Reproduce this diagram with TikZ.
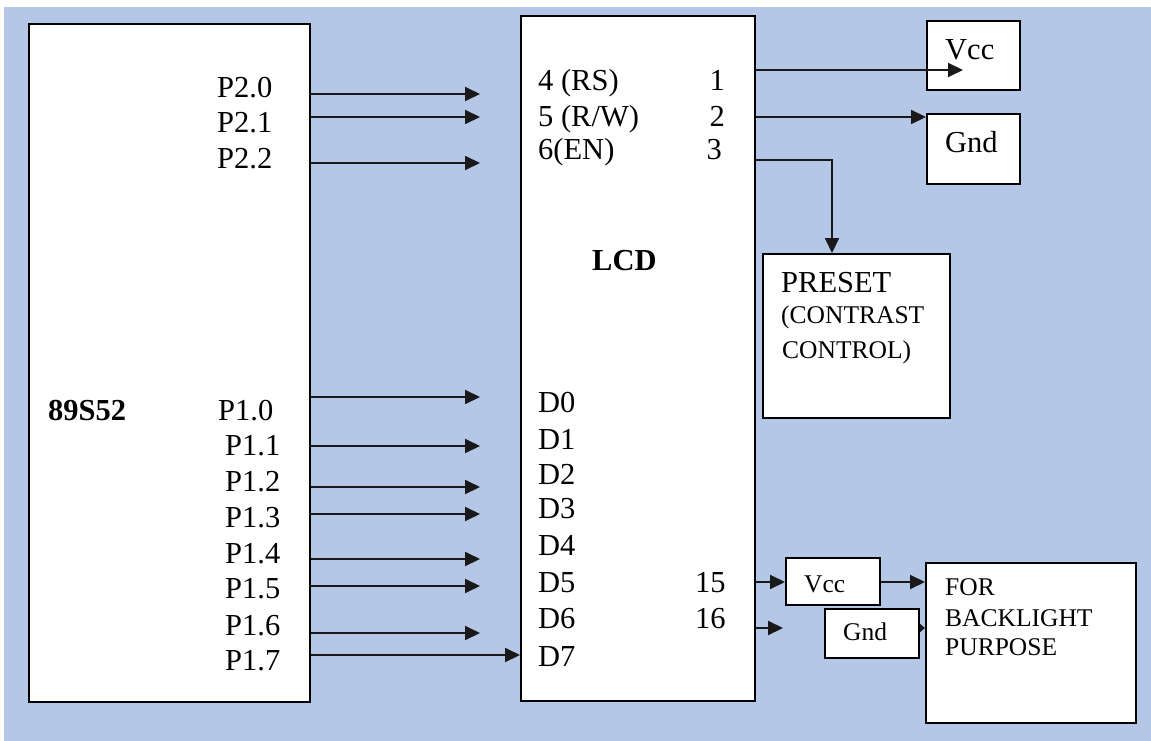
\documentclass[tikz,border=0pt]{standalone}
\usepackage{fontspec}
\setmainfont{Liberation Serif}
\usetikzlibrary{arrows.meta}
\definecolor{panel}{RGB}{180,199,231}
\newcommand\bigtxt{\fontsize{30.5}{36}\selectfont}
\newcommand\smalltxt{\fontsize{25.5}{30}\selectfont}
\begin{document}
\begin{tikzpicture}[x=1pt,y=-1pt,
  box/.style={draw=black, line width=2.2pt, fill=white, inner sep=0pt, anchor=north west},
  lbl/.style={inner sep=0pt, anchor=base west, font=\bigtxt},
  lblr/.style={inner sep=0pt, anchor=base east, font=\bigtxt},
  sml/.style={inner sep=0pt, anchor=base west, font=\smalltxt},
  wire/.style={line width=2pt, draw=black!90},
  arr/.style={wire, -{Triangle[length=15pt,width=14pt]}}]
\useasboundingbox (0,0) rectangle (1151,741);
\fill[panel] (4,7) rectangle (1151,741);

% blocks
\node[box, minimum width=281pt, minimum height=678pt] (mcu) at (28,23) {};
\node[box, minimum width=234pt, minimum height=685pt] (lcd) at (520,15) {};
\node[box, minimum width=93pt, minimum height=69pt] (vcc) at (926,20) {};
\node[box, minimum width=93pt, minimum height=70pt] (gnd) at (926,113) {};
\node[box, minimum width=187pt, minimum height=164pt] (preset) at (762,253) {};
\node[box, minimum width=94pt, minimum height=47pt] (vccs) at (785,557) {};
\node[box, minimum width=94pt, minimum height=49pt] (gnds) at (824,608) {};
\node[box, minimum width=210pt, minimum height=160pt] (back) at (925,562) {};

% microcontroller labels
\node[lbl] (p20) at (217,98) {P2.0};
\node[lbl] (p21) at (217,133) {P2.1};
\node[lbl] (p22) at (217,168) {P2.2};
\node[lbl, font=\bigtxt\bfseries] (chip) at (48,420) {89S52};
\node[lbl] (p10) at (218,420) {P1.0};
\node[lbl] (p11) at (225,455) {P1.1};
\node[lbl] (p12) at (225,491) {P1.2};
\node[lbl] (p13) at (225,527) {P1.3};
\node[lbl] (p14) at (225,563) {P1.4};
\node[lbl] (p15) at (225,598) {P1.5};
\node[lbl] (p16) at (225,635) {P1.6};
\node[lbl] (p17) at (225,670) {P1.7};

% LCD labels
\node[lbl] (rs) at (538,91) {4 (RS)};
\node[lbl] (rw) at (538,127) {5 (R/W)};
\node[lbl] (en) at (538,160) {6(EN)};
\node[lblr] (pin1) at (725,91) {1};
\node[lblr] (pin2) at (725,127) {2};
\node[lblr] (pin3) at (722,160) {3};
\node[lbl, font=\bigtxt\bfseries] (lcdname) at (592,270) {LCD};
\node[lbl] (d0) at (538,412) {D0};
\node[lbl] (d1) at (538,449) {D1};
\node[lbl] (d2) at (538,484) {D2};
\node[lbl] (d3) at (538,518) {D3};
\node[lbl] (d4) at (538,555) {D4};
\node[lbl] (d5) at (538,592) {D5};
\node[lbl] (d6) at (538,628) {D6};
\node[lbl] (d7) at (538,666) {D7};
\node[lbl] (pin15) at (695,592) {15};
\node[lbl] (pin16) at (695,628) {16};

% side blocks
\node[lbl] (vcctxt) at (945,60) {Vcc};
\node[lbl] (gndtxt) at (945,153) {Gnd};
\node[lbl] (pre1) at (781,292) {PRESET};
\node[sml] (pre2) at (781,323) {(CONTRAST};
\node[sml] (pre3) at (782,358) {CONTROL)};
\node[sml] (vccstxt) at (804,592) {Vcc};
\node[sml] (gndstxt) at (843,640) {Gnd};
\node[sml] (bk1) at (945,595) {FOR};
\node[sml] (bk2) at (945,626) {BACKLIGHT};
\node[sml] (bk3) at (945,655) {PURPOSE};

% port 2 to control pins
\coordinate (t20) at (480,94);
\coordinate (t21) at (480,117);
\coordinate (t22) at (480,163);
\draw[arr] (mcu.east |- t20) -- (t20);
\draw[arr] (mcu.east |- t21) -- (t21);
\draw[arr] (mcu.east |- t22) -- (t22);

% port 1 to data pins
\coordinate (t10) at (480,397);
\coordinate (t11) at (480,446);
\coordinate (t12) at (480,487);
\coordinate (t13) at (480,514);
\coordinate (t14) at (480,559);
\coordinate (t15) at (480,586);
\coordinate (t16) at (480,633);
\coordinate (t17) at (0,655);
\draw[arr] (mcu.east |- t10) -- (t10);
\draw[arr] (mcu.east |- t11) -- (t11);
\draw[arr] (mcu.east |- t12) -- (t12);
\draw[arr] (mcu.east |- t13) -- (t13);
\draw[arr] (mcu.east |- t14) -- (t14);
\draw[arr] (mcu.east |- t15) -- (t15);
\draw[arr] (mcu.east |- t16) -- (t16);
\draw[arr] (mcu.east |- t17) -- (lcd.west |- t17);

% supply and contrast pins
\coordinate (r1) at (963,70);
\coordinate (r2) at (0,117);
\coordinate (r3) at (832,160);
\draw[arr] (lcd.east |- r1) -- (r1);
\draw[arr] (lcd.east |- r2) -- (gnd.west |- r2);
\draw[arr] (lcd.east |- r3) -- (r3) -- (preset.north -| r3);

% backlight pins
\coordinate (r15) at (0,582);
\coordinate (r16) at (783,628);
\draw[arr] (lcd.east |- r15) -- (vccs.west |- r15);
\draw[arr] (vccs.east |- r15) -- (back.west |- r15);
\draw[arr] (lcd.east |- r16) -- (r16);
\draw[wire, -{Triangle[length=5pt,width=8pt]}] (gnds.east |- r16) -- (back.west |- r16);
\end{tikzpicture}
\end{document}
